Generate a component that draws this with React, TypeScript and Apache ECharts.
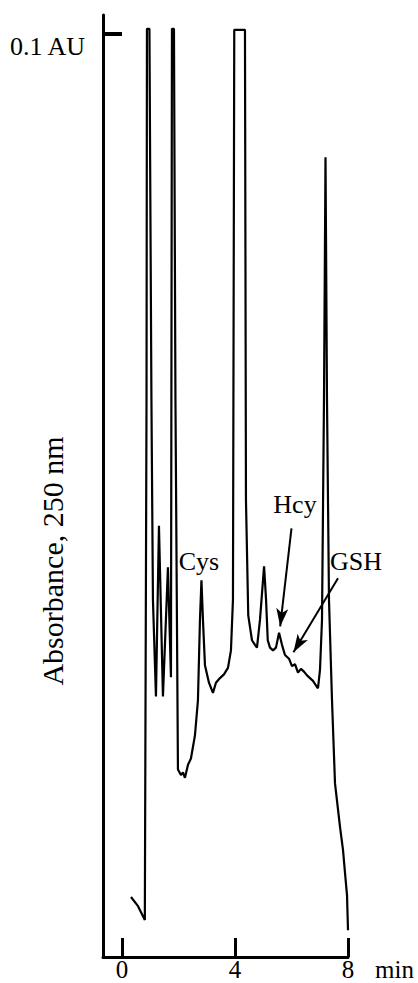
import React, { useEffect, useRef } from "react";
import * as echarts from "echarts";

// Retention time (min)
const timeMin = [
  0.32, 0.57, 0.81, 0.87, 0.885, 0.973, 1.044, 1.097, 1.204, 1.31, 1.451, 1.628, 1.735,
  1.77, 1.841, 1.894, 1.982, 2.088, 2.159, 2.23, 2.336, 2.442, 2.584, 2.69, 2.761, 2.814,
  2.867, 2.938, 3.08, 3.221, 3.327, 3.469, 3.611, 3.752, 3.858, 3.929, 3.975, 4.354, 4.389,
  4.47, 4.602, 4.708, 4.779, 4.885, 5.03, 5.1, 5.16, 5.239, 5.345, 5.451, 5.56, 5.664,
  5.77, 5.912, 6.018, 6.124, 6.23, 6.336, 6.442, 6.549, 6.655, 6.761, 6.867, 6.938, 7.009,
  7.08, 7.15, 7.204, 7.257, 7.327, 7.434, 7.54, 7.717, 7.823, 7.894, 7.965, 8.0,
];
// Absorbance at 250 nm (mAU; 100 mAU = 0.1 AU)
const absorbance = [
  6.5, 5.5, 4.0, 60.3, 100.5, 100.5, 60.3, 38.7, 28.2, 46.7, 28.2, 42.2, 30.3,
  100.5, 100.5, 60.3, 20.3, 19.7, 20.0, 19.4, 20.8, 21.5, 24.0, 27.8, 36.5, 40.8,
  36.5, 31.6, 29.7, 28.6, 29.7, 30.2, 30.6, 31.3, 33.2, 38.7, 100.4, 100.4, 49.5,
  37.0, 34.3, 33.8, 33.5, 36.5, 42.3, 38.7, 34.3, 33.5, 33.2, 33.5, 35.1, 33.8,
  32.7, 32.3, 31.5, 31.7, 30.8, 31.2, 30.9, 30.5, 30.2, 29.9, 29.4, 29.1, 31.1,
  36.5, 60.3, 86.6, 60.3, 38.7, 27.8, 18.8, 14.1, 11.6, 9.1, 6.7, 2.9,
];
const xTicks = [0, 4, 8];
const xUnit = "min";
const yTickValues = [100];
const yTickLabel = "0.1 AU";
const yAxisTitle = "Absorbance, 250 nm";
const peakNames = ["Cys", "Hcy", "GSH"];
// Arrow annotations: [startTime, startAbs, endTime, endAbs]
const hcyArrow = [6.0, 46.4, 5.6, 35.8];
const gshArrow = [7.646, 41.0, 6.07, 33.0];

const FONT = "'Liberation Serif', 'Times New Roman', serif";

export default function App() {
  const ref = useRef<HTMLDivElement>(null);
  useEffect(() => {
    if (!ref.current) return;
    const chart = echarts.init(ref.current, undefined, { renderer: "svg" });
    const data = timeMin.map((t, i) => [t, absorbance[i]]);
    chart.setOption({
      animation: false,
      backgroundColor: "#fff",
      grid: {
        left: 103,
        top: 15,
        width: 245,
        height: 942,
        containLabel: false,
        outerBoundsMode: "none",
      },
      xAxis: {
        type: "value",
        min: -0.67,
        max: 8,
        splitLine: { show: false },
        axisLine: { show: true, onZero: false, lineStyle: { color: "#000", width: 3 } },
        axisTick: {
          show: true,
          inside: true,
          length: 19,
          customValues: xTicks,
          lineStyle: { color: "#000", width: 3 },
        },
        axisLabel: {
          show: true,
          customValues: xTicks,
          margin: 2,
          lineHeight: 20,
          color: "#000",
          fontSize: 25,
          fontFamily: FONT,
        },
      },
      yAxis: {
        type: "value",
        min: 0,
        max: 102,
        splitLine: { show: false },
        axisLine: { show: true, onZero: false, lineStyle: { color: "#000", width: 3 } },
        axisTick: {
          show: true,
          inside: true,
          length: 19,
          customValues: yTickValues,
          lineStyle: { color: "#000", width: 4 },
        },
        axisLabel: {
          show: true,
          customValues: yTickValues,
          formatter: () => yTickLabel,
          margin: 18,
          verticalAlign: "top",
          color: "#000",
          fontSize: 26,
          fontFamily: FONT,
        },
      },
      series: [
        {
          type: "line",
          data,
          showSymbol: false,
          symbol: "none",
          clip: false,
          lineStyle: { color: "#000", width: 2.2 },
          markLine: {
            silent: true,
            symbol: ["none", "arrow"],
            symbolSize: [9, 18],
            label: { show: false },
            lineStyle: { color: "#000", width: 2, type: "solid" },
            data: [
              [
                { coord: [hcyArrow[0], hcyArrow[1]] },
                { coord: [hcyArrow[2], hcyArrow[3]] },
              ],
              [
                { coord: [gshArrow[0], gshArrow[1]] },
                { coord: [gshArrow[2], gshArrow[3]] },
              ],
            ],
          },
        },
      ],
      graphic: [
        {
          type: "text",
          x: 52,
          y: 561,
          rotation: Math.PI / 2,
          style: {
            text: yAxisTitle,
            fontSize: 30,
            fontFamily: FONT,
            fill: "#000",
            align: "center",
            verticalAlign: "middle",
          },
        },
        {
          type: "text",
          x: 375,
          y: 969,
          style: {
            text: xUnit,
            fontSize: 25,
            lineHeight: 20,
            fontFamily: FONT,
            fill: "#000",
            align: "left",
            verticalAlign: "middle",
          },
        },
        {
          type: "text",
          x: 199,
          y: 561,
          style: { text: peakNames[0], fontSize: 26, fontFamily: FONT, fill: "#000", align: "center", verticalAlign: "middle" },
        },
        {
          type: "text",
          x: 295,
          y: 504,
          style: { text: peakNames[1], fontSize: 26, fontFamily: FONT, fill: "#000", align: "center", verticalAlign: "middle" },
        },
        {
          type: "text",
          x: 330,
          y: 561,
          style: { text: peakNames[2], fontSize: 26, fontFamily: FONT, fill: "#000", align: "left", verticalAlign: "middle" },
        },
      ],
    });
    return () => chart.dispose();
  }, []);
  return (
    <div
      ref={ref}
      style={{ position: "fixed", left: 0, top: 0, width: 418, height: 983, background: "#fff" }}
    />
  );
}
